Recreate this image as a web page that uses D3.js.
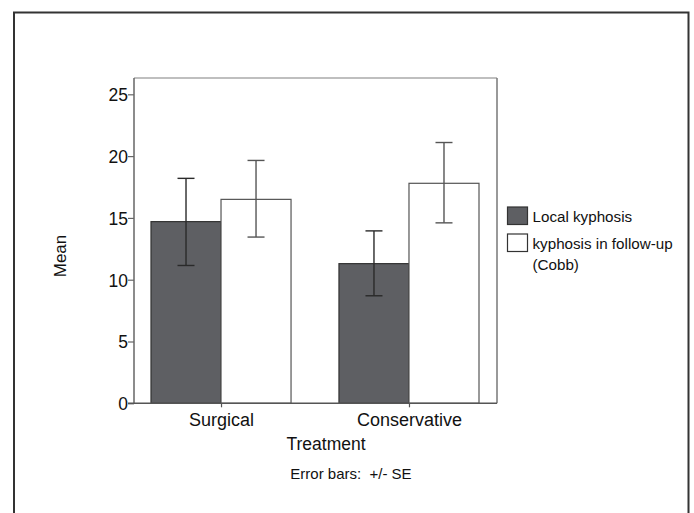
<!DOCTYPE html>
<html>
<head>
<meta charset="utf-8">
<script src="https://cdn.jsdelivr.net/npm/d3@7"></script>
<style>
html,body{margin:0;padding:0;background:#fff;}
svg{display:block;font-family:"Liberation Sans",Arial,Helvetica,sans-serif;}
</style>
</head>
<body>
<svg id="chart" width="694" height="513"></svg>
<script>
const categories = ["Surgical", "Conservative"];
const seriesNames = ["Local kyphosis", "kyphosis in follow-up (Cobb)"];
const legendLines = [["Local kyphosis"], ["kyphosis in follow-up", "(Cobb)"]];
const localMean = [14.7, 11.3];
const localLow = [11.15, 8.7];
const localHigh = [18.2, 13.95];
const followMean = [16.5, 17.8];
const followLow = [13.45, 14.6];
const followHigh = [19.65, 21.1];
const yTicks = [0, 5, 10, 15, 20, 25];

(function () {
const svg = d3.select("#chart");

// outer frame
svg.append("path")
  .attr("d", "M14,520 L14,12.5 L688.5,12.5 L688.5,520")
  .attr("fill", "none").attr("stroke", "#333").attr("stroke-width", 2);

const pLeft = 134, pRight = 497, pTop = 78, pBottom = 403.3;
const y = d3.scaleLinear().domain([0, 26.32]).range([pBottom, pTop]);
const x = d3.scaleBand().domain(categories).range([151, 479]).paddingInner(0.255).paddingOuter(0);
const xs = d3.scaleBand().domain([0, 1]).range([0, x.bandwidth()]);

// plot frame top/right
svg.append("line").attr("x1", pLeft).attr("x2", pRight).attr("y1", pTop).attr("y2", pTop)
  .attr("stroke", "#aaa").attr("stroke-width", 1.5);
svg.append("line").attr("x1", pRight).attr("x2", pRight).attr("y1", pTop).attr("y2", pBottom)
  .attr("stroke", "#777").attr("stroke-width", 1.5);

const series = [
  {mean: localMean, lo: localLow, hi: localHigh, fill: "#5e5f63", stroke: "#333"},
  {mean: followMean, lo: followLow, hi: followHigh, fill: "#ffffff", stroke: "#555"}
];

series.forEach((s, si) => {
  const g = svg.append("g");
  g.selectAll("rect").data(categories).join("rect")
    .attr("x", c => x(c) + xs(si))
    .attr("width", xs.bandwidth())
    .attr("y", (c, i) => y(s.mean[i]))
    .attr("height", (c, i) => pBottom - y(s.mean[i]))
    .attr("fill", s.fill).attr("stroke", s.stroke).attr("stroke-width", 1.2);
});

series.forEach((s, si) => {
  const g = svg.append("g").attr("stroke", si === 0 ? "#2a2a2a" : "#555").attr("stroke-width", 1.4).attr("fill", "none");
  categories.forEach((c, i) => {
    const cx = x(c) + xs(si) + xs.bandwidth() / 2;
    g.append("line").attr("x1", cx).attr("x2", cx).attr("y1", y(s.hi[i])).attr("y2", y(s.lo[i]));
    g.append("line").attr("x1", cx - 8.5).attr("x2", cx + 8.5).attr("y1", y(s.hi[i])).attr("y2", y(s.hi[i]));
    g.append("line").attr("x1", cx - 8.5).attr("x2", cx + 8.5).attr("y1", y(s.lo[i])).attr("y2", y(s.lo[i]));
  });
});

// y axis
const yAxis = svg.append("g").attr("transform", `translate(${pLeft},0)`)
  .call(d3.axisLeft(y).tickValues(yTicks).tickSize(6).tickSizeOuter(0).tickFormat(d3.format("d")));
yAxis.select(".domain").attr("stroke", "#666").attr("stroke-width", 1.5).attr("d", `M0,${pBottom}V${pTop}`);
yAxis.selectAll(".tick line").attr("stroke", "#666").attr("stroke-width", 1.2);
yAxis.selectAll(".tick text").attr("font-size", 17.5).attr("fill", "#111").attr("x", -6).attr("dy", "0.36em")
  .attr("font-family", "Liberation Sans, Arial, sans-serif");

// x axis
const xCenter = d3.scalePoint().domain(categories).range([x(categories[0]) + x.bandwidth() / 2, x(categories[1]) + x.bandwidth() / 2]);
const xAxis = svg.append("g").attr("transform", `translate(0,${pBottom})`)
  .call(d3.axisBottom(xCenter).tickSize(4).tickSizeOuter(0));
xAxis.select(".domain").attr("stroke", "#555").attr("stroke-width", 1.5).attr("d", `M${pLeft - 6},0H${pRight}`);
xAxis.selectAll(".tick line").attr("stroke", "#555").attr("stroke-width", 1.2);
xAxis.selectAll(".tick text").attr("font-size", 18).attr("fill", "#111").attr("y", 7).attr("dy", "0.85em")
  .attr("font-family", "Liberation Sans, Arial, sans-serif");

// titles
svg.append("text").attr("x", 326).attr("y", 449.5).attr("text-anchor", "middle")
  .attr("font-size", 17.5).attr("fill", "#111").text("Treatment");
svg.append("text").attr("transform", "translate(66,256) rotate(-90)").attr("text-anchor", "middle")
  .attr("font-size", 17).attr("fill", "#111").text("Mean");
svg.append("text").attr("x", 351).attr("y", 479).attr("text-anchor", "middle")
  .attr("font-size", 15).attr("fill", "#111").attr("xml:space", "preserve").text("Error bars:  +/- SE");

// legend
const legend = svg.append("g");
const legendStyle = [
  {fill: "#5e5f63", stroke: "#333", y: 207},
  {fill: "#ffffff", stroke: "#333", y: 234}
];
legendStyle.forEach((r, i) => {
  legend.append("rect").attr("x", 507.5).attr("y", r.y).attr("width", 20).attr("height", 17.5)
    .attr("fill", r.fill).attr("stroke", r.stroke).attr("stroke-width", 1.2);
  legendLines[i].forEach((t, j) => {
    legend.append("text").attr("x", 532.5).attr("y", r.y + 14.7 + j * 21.7)
      .attr("font-size", 15.2).attr("fill", "#111").text(t);
  });
});
})();
</script>
</body>
</html>
